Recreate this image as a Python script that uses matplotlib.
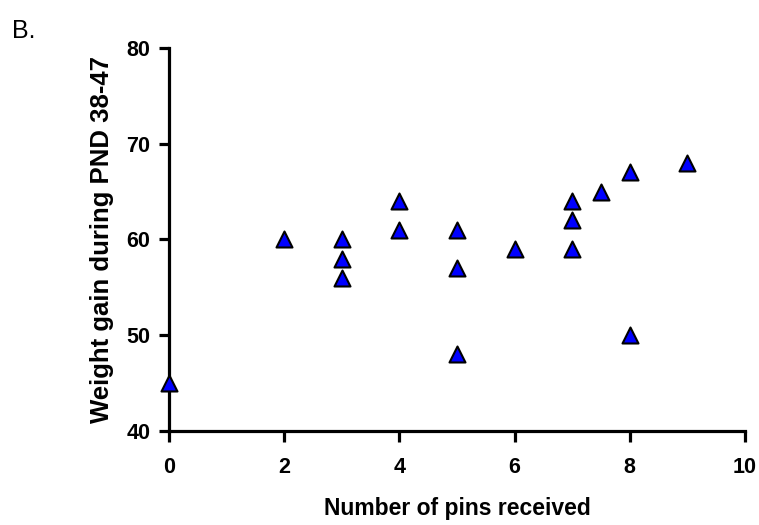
import matplotlib
matplotlib.use("Agg")
import matplotlib.pyplot as plt

# Data
pins = [0, 2, 3, 3, 3, 4, 4, 5, 5, 5, 6, 7, 7, 7, 7.5, 8, 8, 9]
weight_gain = [45, 60, 60, 58, 56, 64, 61, 61, 57, 48, 59, 64, 62, 59, 65, 67, 50, 68]
x_ticks = [0, 2, 4, 6, 8, 10]
y_ticks = [40, 50, 60, 70, 80]
x_label = "Number of pins received"
y_label = "Weight gain during PND 38-47"
panel_label = "B."

plt.rcParams['font.family'] = ['Liberation Sans', 'DejaVu Sans']
plt.rcParams['font.weight'] = 'bold'

W, H = 759, 525
fig = plt.figure(figsize=(W / 100, H / 100), dpi=100)
left, right, top, bottom = 169, 745, 48, 431
ax = fig.add_axes([left / W, 1 - bottom / H, (right - left) / W, (bottom - top) / H])

ax.scatter(pins, weight_gain, marker='^', s=11.5 ** 2, facecolor='#0000FF',
           edgecolor='black', linewidth=1.5, clip_on=False, zorder=3)

ax.set_xlim(0, 10)
ax.set_ylim(40, 80)
ax.set_xticks(x_ticks, [str(t) for t in x_ticks])
ax.set_yticks(y_ticks, [str(t) for t in y_ticks])

for s in ['top', 'right']:
    ax.spines[s].set_visible(False)
for s in ['left', 'bottom']:
    ax.spines[s].set_linewidth(2.3)
    ax.spines[s].set_capstyle('projecting')

ax.tick_params(axis='x', direction='out', length=8, width=2.3, pad=11, labelsize=15.5)
ax.tick_params(axis='y', direction='out', length=7.5, width=2.3, pad=6, labelsize=15.5)

ax.set_xlabel(x_label, fontsize=16.5, fontweight='bold')
ax.xaxis.set_label_coords(0.5, (bottom - 497) / (bottom - top))
ax.set_ylabel(y_label, fontsize=18.5, fontweight='bold')
ax.yaxis.set_label_coords((114 - left) / (right - left), 0.5)

fig.text(12 / W, 1 - 38 / H, panel_label, fontsize=18, fontweight='normal',
         ha='left', va='baseline')

fig.savefig("out.png", dpi=100)
